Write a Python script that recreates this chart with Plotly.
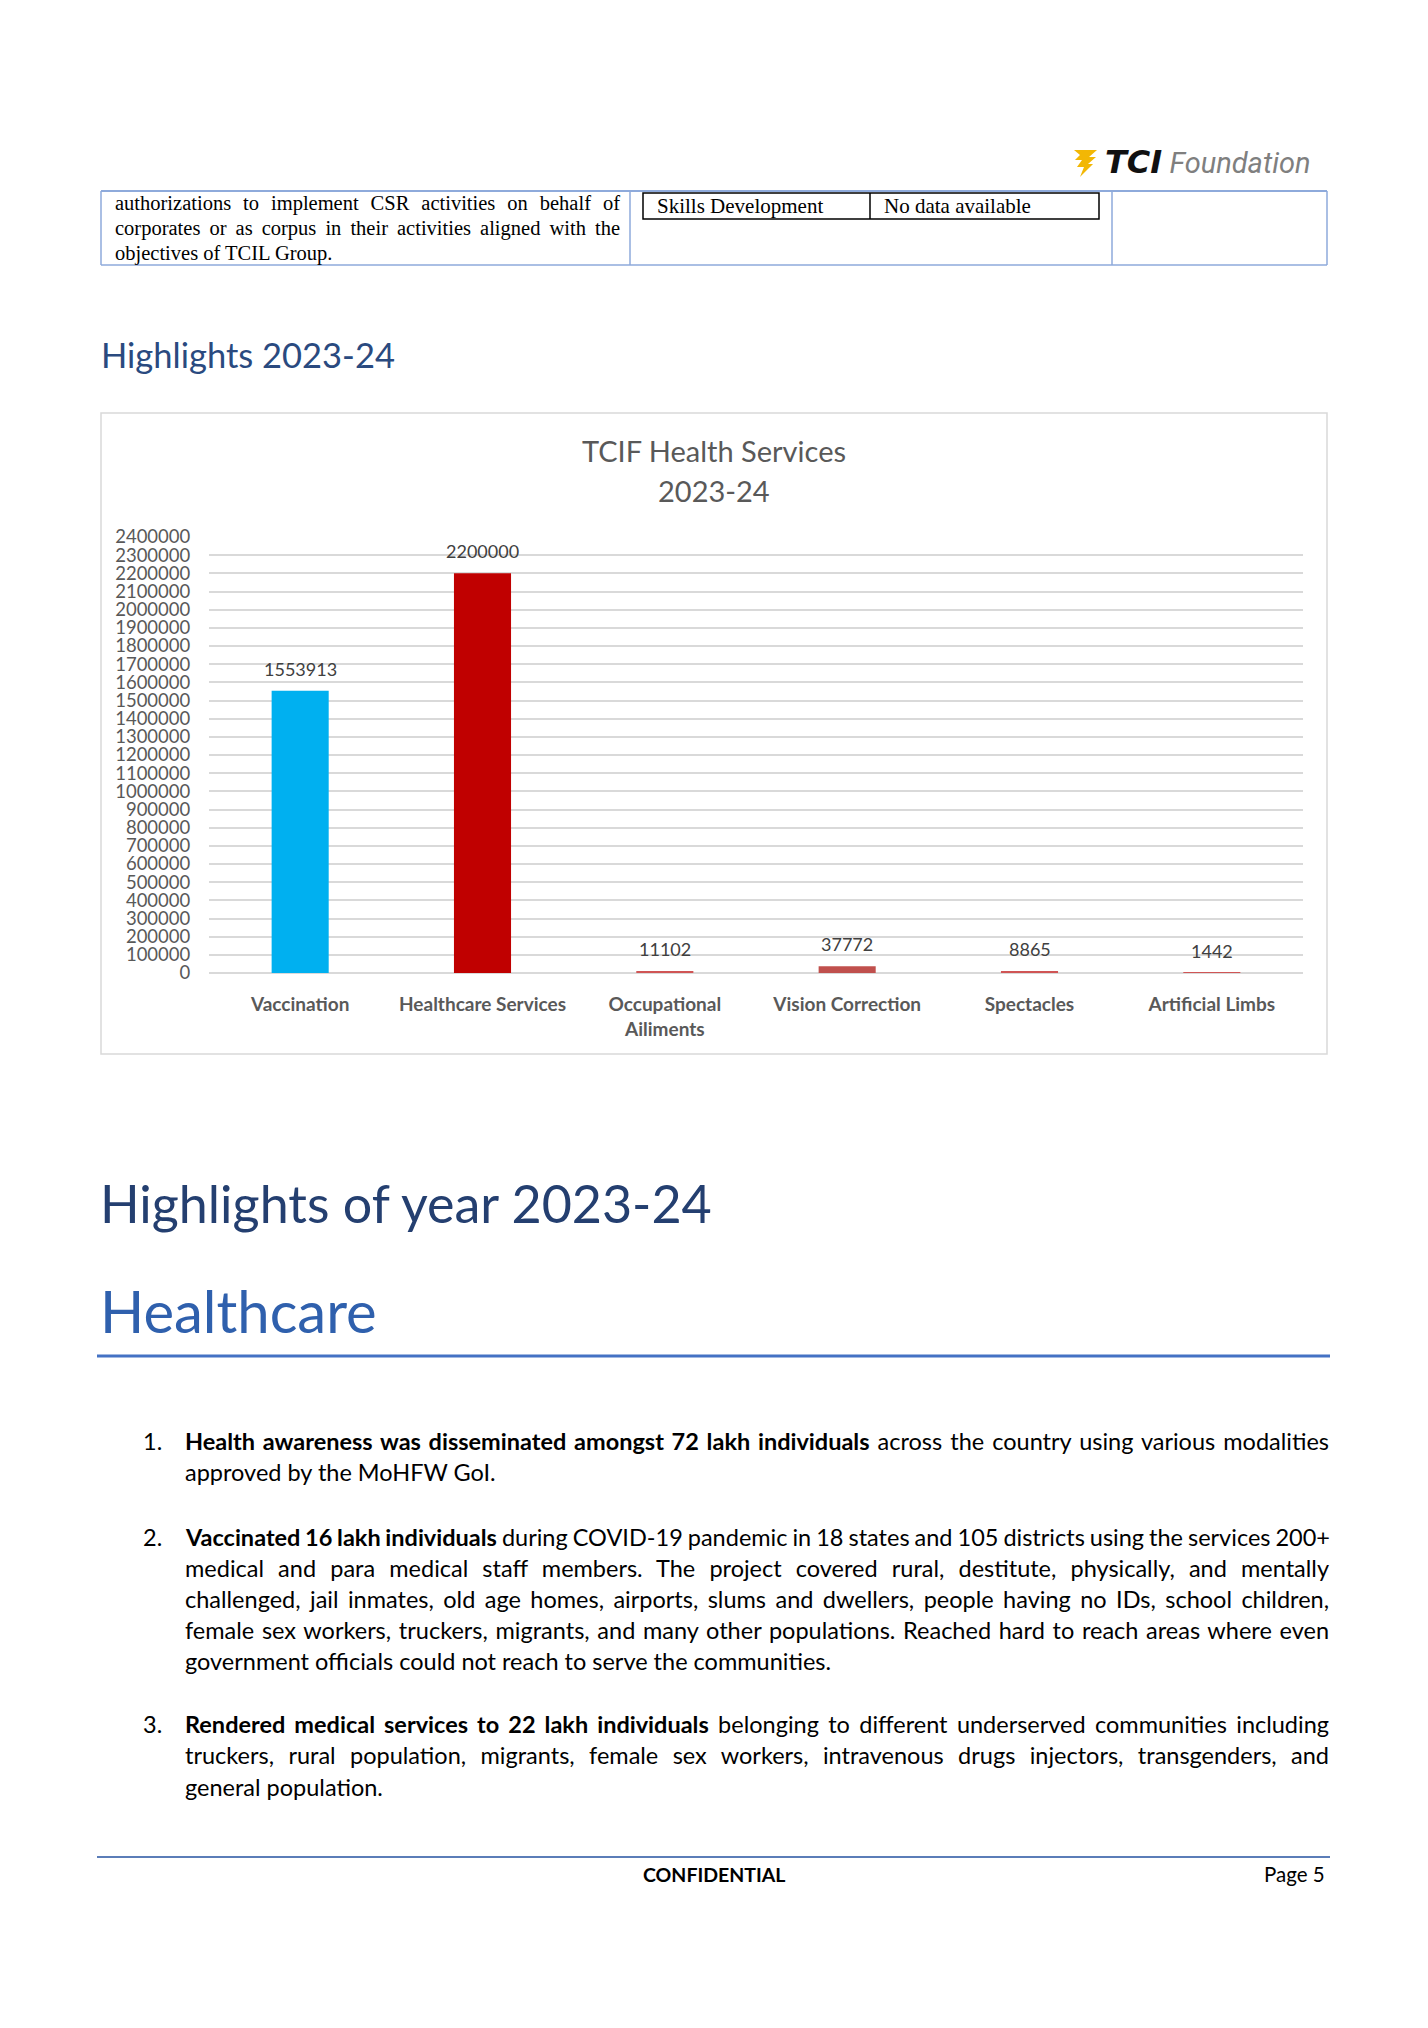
import json
import plotly.graph_objects as go

# ---------------- data ----------------
categories = ["Vaccination", "Healthcare Services", "Occupational Ailiments",
              "Vision Correction", "Spectacles", "Artificial Limbs"]
tick_labels = ["Vaccination", "Healthcare Services", "Occupational<br>Ailiments",
               "Vision Correction", "Spectacles", "Artificial Limbs"]
values = [1553913, 2200000, 11102, 37772, 8865, 1442]
bar_colors = ["#00B0F0", "#C00000", "#D05555", "#C0504D", "#D05555", "#D05555"]
y_ticks = list(range(0, 2400001, 100000))

W, H = 1428, 2028
def px(x): return x / W
def py(y): return 1 - y / H

SANS = "Lato"
SERIF = "Liberation Serif"

fig = go.Figure()
fig.add_trace(go.Bar(x=categories, y=values, marker_color=bar_colors,
                     marker_line_width=0, hoverinfo="skip"))

annotations = []
justify = []  # (annotation index, target width px)

def text(x, y, s, size, color="#000000", family=SANS, xanchor="left",
         yanchor="middle", just_w=None):
    annotations.append(dict(xref="paper", yref="paper", x=px(x), y=py(y), text=s,
                            showarrow=False, xanchor=xanchor, yanchor=yanchor,
                            align="left", font=dict(family=family, size=size, color=color)))
    if just_w:
        justify.append([len(annotations) - 1, just_w])

# data labels on bars
for c, v in zip(categories, values):
    annotations.append(dict(xref="x", yref="y", x=c, y=v, text=str(v), showarrow=False,
                            yanchor="middle", yshift=22,
                            font=dict(family=SANS, size=18, color="#404040")))

# header logo
text(1313, 162, "<span style='font-family:DejaVu Sans;font-size:32px;color:#111111'><b><i>TCI</i></b></span>"
     " <span style='color:#7F7F7F'><i>Foundation</i></span>",
     29, "#7F7F7F", family="Roboto", xanchor="right")

# table text
text(113, 204, "authorizations to implement CSR activities on behalf of", 20.5, family=SERIF, just_w=505)
text(113, 229, "corporates or as corpus in their activities aligned with the", 20.5, family=SERIF, just_w=505)
text(113, 254, "objectives of TCIL Group.", 20.5, family=SERIF)
text(655, 206, "Skills Development", 21, family=SERIF)
text(882, 206, "No data available", 21, family=SERIF)

# headings
text(99, 354, "Highlights 2023-24", 34.5, "#2A4A7F")
text(714, 450, "TCIF Health Services", 29, "#595959", xanchor="center")
text(714, 490, "2023-24", 29, "#595959", xanchor="center")
text(98, 1203, "Highlights of year 2023-24", 52, "#243F70")
text(98, 1310, "Healthcare", 58, "#2F60AD")

# list
TW = 1327 - 183
items = [
    ("1.", [(1441, "<b>Health awareness was disseminated amongst 72 lakh individuals</b> across the country using various modalities", True),
            (1472, "approved by the MoHFW GoI.", False)]),
    ("2.", [(1537, "<b>Vaccinated 16 lakh individuals</b> during COVID-19 pandemic in 18 states and 105 districts using the services 200+", True),
            (1568, "medical and para medical staff members. The project covered rural, destitute, physically, and mentally", True),
            (1599, "challenged, jail inmates, old age homes, airports, slums and dwellers, people having no IDs, school children,", True),
            (1630, "female sex workers, truckers, migrants, and many other populations. Reached hard to reach areas where even", True),
            (1661, "government officials could not reach to serve the communities.", False)]),
    ("3.", [(1724, "<b>Rendered medical services to 22 lakh individuals</b> belonging to different underserved communities including", True),
            (1755, "truckers, rural population, migrants, female sex workers, intravenous drugs injectors, transgenders, and", True),
            (1787, "general population.", False)]),
]
for num, lines in items:
    text(141, lines[0][0], num, 23.5)
    for y, s, j in lines:
        text(183, y, s, 23.5, just_w=TW if j else None)

# footer
text(714, 1874, "<b>CONFIDENTIAL</b>", 19.5, xanchor="center")
text(1327, 1874, "Page 5", 20.5, xanchor="right")

shapes = []
def line(x0, y0, x1, y1, color, width):
    shapes.append(dict(type="line", xref="paper", yref="paper", x0=px(x0), y0=py(y0),
                       x1=px(x1), y1=py(y1), line=dict(color=color, width=width)))

# table borders
TB = "#8EAADB"
line(101, 191, 1327, 191, TB, 2)
line(101, 265, 1327, 265, TB, 1.5)
for xv in (101, 630, 1112, 1327):
    line(xv, 191, xv, 265, TB, 1.5)
# inner box
shapes.append(dict(type="rect", xref="paper", yref="paper", x0=px(643), y0=py(193),
                   x1=px(1099), y1=py(219), line=dict(color="#000000", width=1.5)))
line(870, 193, 870, 219, "#000000", 1.5)

# chart border
shapes.append(dict(type="rect", xref="paper", yref="paper", x0=px(101), y0=py(413),
                   x1=px(1327), y1=py(1054), line=dict(color="#D9D9D9", width=1.5)))

# rule lines
line(97, 1356, 1330, 1356, "#4472C4", 3)
line(97, 1857, 1330, 1857, "#5B7DB8", 2)

# logo bolt
pts = [(1074, 150), (1097, 150), (1089, 157), (1096, 157), (1088, 164), (1093, 164),
       (1080, 177), (1084, 167), (1077, 167), (1082, 160), (1075, 160), (1080, 155)]
path = "M " + " L ".join(f"{px(a):.5f},{py(b):.5f}" for a, b in pts) + " Z"
shapes.append(dict(type="path", xref="paper", yref="paper", path=path,
                   fillcolor="#F2B705", line=dict(width=0)))

fig.update_layout(
    width=W, height=H, margin=dict(l=0, r=0, t=0, b=0, pad=0, autoexpand=False),
    paper_bgcolor="white", plot_bgcolor="white", showlegend=False,
    bargap=0.687,
    annotations=annotations, shapes=shapes,
    xaxis=dict(domain=[px(209), px(1303)], tickmode="array", tickvals=categories,
               ticktext=[f"<b>{t}</b>" for t in tick_labels],
               tickfont=dict(family=SANS, size=19, color="#595959"),
               ticks="outside", ticklen=14, tickcolor="rgba(0,0,0,0)",
               showline=False, showgrid=False, fixedrange=True, automargin=False),
    yaxis=dict(domain=[py(973), py(537)], range=[0, 2400000], tickmode="array",
               tickvals=y_ticks, ticktext=[str(v) for v in y_ticks],
               tickfont=dict(family=SANS, size=18.5, color="#595959"),
               ticks="outside", ticklen=14, tickcolor="rgba(0,0,0,0)",
               showgrid=True, gridcolor="#D9D9D9", gridwidth=1.5,
               zeroline=True, zerolinecolor="#D9D9D9", zerolinewidth=1.5,
               showline=False, fixedrange=True, automargin=False),
)

post = """
(function(){
  document.body.style.margin='0';
  document.body.style.overflow='hidden';
  var J = %s;
  function just(){
    var gd = document.getElementById('{plot_id}');
    if(!gd) return;
    J.forEach(function(p){
      var t = gd.querySelector('g.annotation[data-index="' + p[0] + '"] text.annotation-text');
      if(!t) return;
      t.style.wordSpacing = '0px';
      var len = t.getComputedTextLength();
      var n = (t.textContent.match(/ /g) || []).length;
      if(n > 0) t.style.wordSpacing = ((p[1] - len) / n) + 'px';
    });
  }
  just(); setTimeout(just, 200); setTimeout(just, 800);
})();
""" % json.dumps(justify)

fig.write_html("out.html", post_script=post, config={"displayModeBar": False})
